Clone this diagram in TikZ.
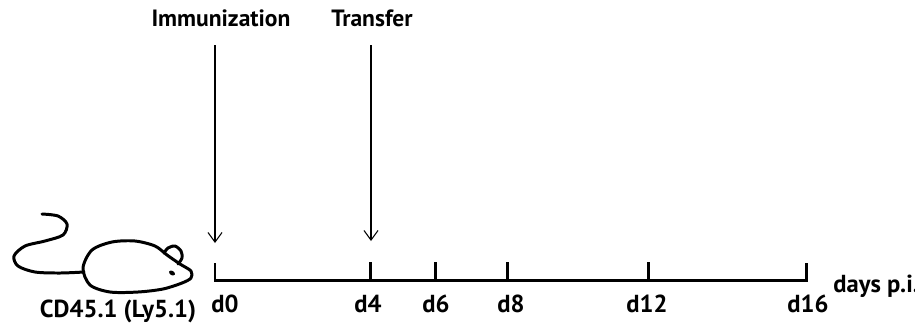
\documentclass[tikz,border=0pt]{standalone}
\usepackage{fontspec}
\setmainfont{PT Sans}
\usetikzlibrary{arrows.meta}

\begin{document}
\begin{tikzpicture}[x=0.02cm,y=-0.02cm]
	\tikzstyle{every node}+=[inner sep=0pt,font=\fontsize{14}{16}\selectfont\bfseries]
	\tikzstyle{toplabel}=[anchor=base,font=\fontsize{13.4}{16}\selectfont\bfseries]
	\tikzstyle{mouse}=[black,line width=1.7pt,line cap=round,line join=round]
	\tikzstyle{axis}=[black,line width=1.7pt]
	\tikzstyle{inject}=[black,line width=0.6pt,-{Straight Barb[length=5.5pt,width=8pt,line width=0.6pt]}]
	\useasboundingbox (0,0) rectangle (915,322);
	% the mouse
	\draw [mouse] plot [smooth] coordinates {(42,214) (58,216) (67,224) (63,235) (45,241) (25,246) (14,256) (18,266) (35,272) (60,273) (84,272)};
	\draw [mouse] plot [smooth cycle] coordinates {(83,268) (92,250) (112,242) (135,241) (155,246) (167,255) (180,264) (191,271) (191,278) (182,283) (163,289) (138,292) (110,292) (90,285)};
	\draw [mouse] plot [smooth] coordinates {(164,253) (168,248) (175,246) (181,251) (182,258) (178,264)};
	\fill [black,rotate around={-30:(172,273)}] (172,273) ellipse (3.2 and 2.2);
	\node [anchor=base] (strain) at (118,317) {CD45.1 (Ly5.1)};
	% time axis
	\foreach \d/\x in {0/215,4/370,6/435,8/507,12/648,16/806}
		\coordinate (t\d) at (\x,280);
	\draw [axis] (215,263) -- (t0) -- (t16) -- (806,263);
	\foreach \d in {4,6,8,12}
		\draw [axis] (t\d) -- ++(0,-18);
	\node [anchor=base west] (l0) at (211,312) {d0};
	\foreach \d/\x in {4/368,6/436,8/511,12/647,16/808}
		\node [anchor=base] (l\d) at (\x,312) {d\d};
	\node [anchor=base west] (unit) at (833,292) {days p.i.};
	% injections
	\node [toplabel] (imm) at (221,26) {Immunization};
	\node [toplabel] (trans) at (372,26) {Transfer};
	\coordinate (immtop) at (215,45);
	\coordinate (immtip) at (215,243);
	\coordinate (transtop) at (371,45);
	\coordinate (transtip) at (371,241);
	\draw [inject] (immtop) -- (immtip);
	\draw [inject] (transtop) -- (transtip);
\end{tikzpicture}
\end{document}
